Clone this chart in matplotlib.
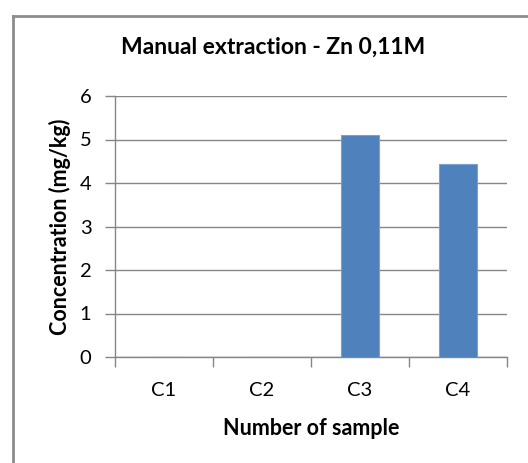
import matplotlib
matplotlib.use('Agg')
import matplotlib.pyplot as plt
from matplotlib.lines import Line2D

# data
samples = ['C1', 'C2', 'C3', 'C4']
conc = [0, 0, 5.11, 4.44]
yticks = [0, 1, 2, 3, 4, 5, 6]

plt.rcParams['font.family'] = ['Lato', 'DejaVu Sans']
grey = '#868686'

fig = plt.figure(figsize=(5.28, 4.63), dpi=100)
ax = fig.add_axes([115/528, 1-357/463, 392/528, 261/463])

x = range(len(samples))
ax.bar(x, conc, width=0.39, color='#4f81bd', edgecolor='#7aa0d0', linewidth=0.8, zorder=3)

ax.set_xlim(-0.5, len(samples)-0.5)
ax.set_ylim(0, 6)
ax.set_yticks(yticks)
ax.set_xticks(list(x))
ax.set_xticklabels(samples)
ax.set_xticks([i - 0.5 for i in range(len(samples)+1)], minor=True)
ax.tick_params(axis='x', which='major', length=0, labelsize=14.5, pad=18)
ax.tick_params(axis='x', which='minor', length=7, color=grey, width=1)
ax.tick_params(axis='y', length=7, color=grey, width=1, labelsize=14.5, pad=10)
ax.grid(axis='y', color=grey, linewidth=1, zorder=0)
for s in ['top', 'right']:
    ax.spines[s].set_visible(False)
for s in ['left', 'bottom']:
    ax.spines[s].set_color(grey)
    ax.spines[s].set_linewidth(1)

ax.set_xlabel('Number of sample', fontsize=15.5, fontweight='bold', labelpad=14)
ax.set_ylabel('Concentration (mg/kg)', fontsize=15.5, fontweight='bold', labelpad=6)
fig.text(273/528, 1-47/463, 'Manual extraction - Zn 0,11M', fontsize=16.5,
         fontweight='bold', ha='center', va='center')

# outer chart border (left and top only visible)
fig.add_artist(Line2D([12.5/528, 12.5/528], [0, 1-15.5/463], transform=fig.transFigure,
                      color='#8c8c8c', linewidth=2))
fig.add_artist(Line2D([12.5/528, 1], [1-15.5/463, 1-15.5/463], transform=fig.transFigure,
                      color='#8c8c8c', linewidth=2))

fig.savefig('out.png', dpi=100)
